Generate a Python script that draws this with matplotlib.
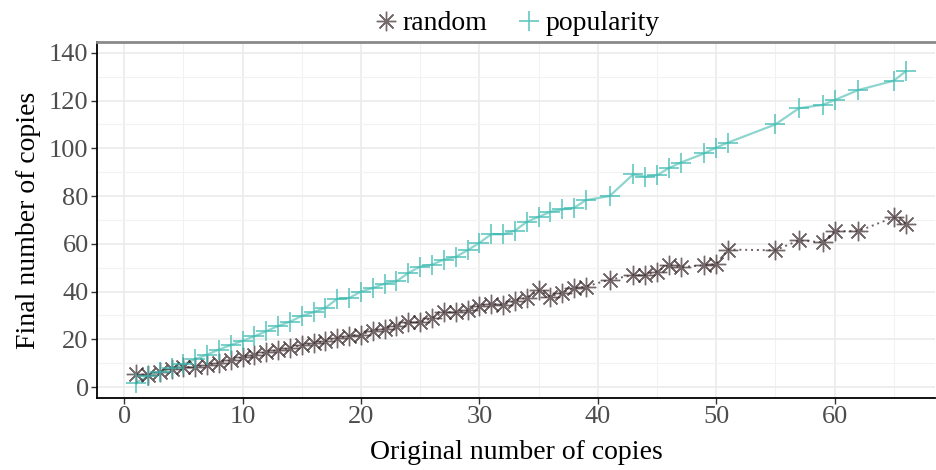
import matplotlib
matplotlib.use("Agg")
import matplotlib.pyplot as plt
from matplotlib.ticker import MultipleLocator
from matplotlib.lines import Line2D

# Original vs final number of copies for two selection strategies
random_x = list(range(1, 40)) + [41, 43, 44, 45, 46, 47, 49, 50, 51, 55, 57, 59, 60, 62, 65, 66]
random_y = [5.5, 5.0, 6.4, 7.4, 8.3, 8.5, 9.2, 10.2, 11.3, 12.5,
            13.4, 14.8, 15.5, 16.3, 17.6, 18.4, 19.3, 20.5, 21.5, 22.0,
            23.7, 24.4, 25.8, 27.2, 27.2, 28.9, 31.4, 31.4, 32.1, 34.0,
            35.0, 34.5, 36.1, 37.5, 40.5, 37.9, 39.6, 41.5, 42.1,
            45.0, 46.9, 46.9, 48.4, 51.3, 50.3, 51.0, 51.5, 57.6,
            57.3, 61.5, 60.6, 65.3, 65.3, 71.1, 68.5]

popularity_x = list(range(1, 40)) + [41, 43, 44, 45, 46, 47, 49, 50, 51, 55, 57, 59, 60, 62, 65, 66]
popularity_y = [1.8, 4.6, 6.4, 8.2, 9.6, 11.7, 13.6, 15.7, 17.6, 19.4,
                21.3, 23.4, 25.6, 27.4, 29.8, 31.4, 33.2, 37.0, 37.3, 40.0,
                41.5, 43.3, 44.3, 47.8, 50.5, 51.3, 53.4, 54.5, 57.3, 60.4,
                64.0, 64.0, 65.5, 69.2, 71.3, 73.4, 74.4, 75.1, 78.3,
                80.0, 89.1, 88.1, 88.7, 91.7, 94.0, 97.9, 100.3, 102.4,
                110.0, 116.8, 118.2, 120.2, 124.4, 128.3, 132.2]

x_ticks = [0, 10, 20, 30, 40, 50, 60]
y_ticks = [0, 20, 40, 60, 80, 100, 120, 140]

random_color = "#3b2a2e"
pop_color = "#3bbab0"
serif = ["Liberation Serif", "DejaVu Serif"]
star = (8, 2, 0)

fig = plt.figure(figsize=(9.37, 4.70), dpi=100)
ax = fig.add_axes([0.1035, 0.153, 0.8945, 0.7575])

ax.plot(random_x, random_y, linestyle=(0, (1, 2)), color="#6e6466", linewidth=1.4, zorder=3)
ax.plot(random_x, random_y, linestyle="none", marker=star, markersize=14,
        markeredgewidth=1.0, color=random_color, alpha=0.7, zorder=4)

ax.plot(popularity_x, popularity_y, linestyle="-", color="#8fd5cf", linewidth=1.6, zorder=3)
ax.plot(popularity_x, popularity_y, linestyle="none", marker="+", markersize=15,
        markeredgewidth=1.2, color=pop_color, alpha=0.8, zorder=4)

ax.set_xlim(-2.3, 68.5)
ax.set_ylim(-4.6, 144.5)
ax.set_xticks(x_ticks)
ax.set_yticks(y_ticks)
ax.xaxis.set_minor_locator(MultipleLocator(5))
ax.yaxis.set_minor_locator(MultipleLocator(10))
ax.grid(True, which="major", color="#ebebeb", linewidth=1.2)
ax.grid(True, which="minor", color="#f2f2f2", linewidth=0.8)
ax.set_axisbelow(True)

ax.spines["right"].set_visible(False)
ax.spines["left"].set_color("black")
ax.spines["bottom"].set_color("black")
ax.spines["left"].set_linewidth(1.3)
ax.spines["bottom"].set_linewidth(1.3)
ax.spines["top"].set_color("#8a8a8a")
ax.spines["top"].set_linewidth(2.0)

ax.tick_params(axis="both", which="major", direction="out", length=4, width=1,
               color="#333333", labelcolor="#4d4d4d", labelsize=19, pad=2)
ax.tick_params(axis="both", which="minor", length=0)
for lbl in ax.get_xticklabels() + ax.get_yticklabels():
    lbl.set_fontfamily(serif)

ax.set_xlabel("Original number of copies", fontsize=20, family=serif, labelpad=8)
ax.set_ylabel("Final number of copies", fontsize=20, family=serif, labelpad=6)

handles = [
    Line2D([], [], linestyle="none", marker=star, markersize=14,
           markeredgewidth=1.0, color=random_color, alpha=0.7),
    Line2D([], [], linestyle="none", marker="+", markersize=15,
           markeredgewidth=1.2, color=pop_color, alpha=0.8),
]
ax.legend(handles, ["random", "popularity"], loc="lower center",
          bbox_to_anchor=(0.5, 0.985), ncol=2, frameon=False,
          prop={"family": serif, "size": 20}, handletextpad=0.1,
          columnspacing=1.0, handlelength=1.0, borderaxespad=0.0)

fig.savefig("out.png", dpi=100)
